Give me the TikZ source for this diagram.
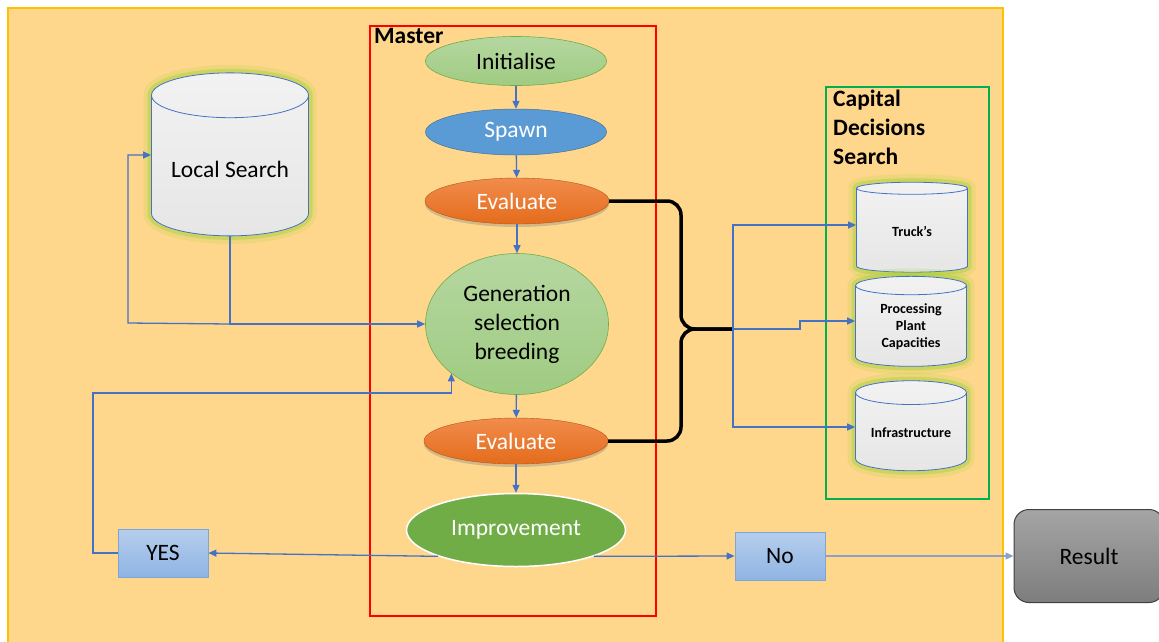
\documentclass[tikz,border=0pt]{standalone}
\usepackage{fontspec}
\setmainfont{Carlito}
\usepackage{xcolor}
\usepackage{tikz}
\usetikzlibrary{positioning, shapes, arrows.meta, calc, shapes.geometric, shadows}

\definecolor{bgorange}{RGB}{255,215,140}
\definecolor{bgedge}{RGB}{255,192,0}
\definecolor{flowblue}{RGB}{68,114,196}
\definecolor{linkgray}{RGB}{140,160,200}
\definecolor{greentop}{RGB}{181,215,160}
\definecolor{greenbot}{RGB}{160,203,130}
\definecolor{greenedge}{RGB}{112,173,71}
\definecolor{spawnblue}{RGB}{91,155,213}
\definecolor{spawnedge}{RGB}{65,113,156}
\definecolor{evaltop}{RGB}{241,140,75}
\definecolor{evalbot}{RGB}{228,108,28}
\definecolor{masterred}{RGB}{255,0,0}
\definecolor{capgreen}{RGB}{0,176,80}
\definecolor{glowgreen}{RGB}{165,210,60}
\definecolor{cylbody}{RGB}{231,230,230}
\definecolor{cyltop}{RGB}{242,242,242}
\definecolor{boxtop}{RGB}{182,206,236}
\definecolor{boxbot}{RGB}{143,180,227}
\definecolor{boxedge}{RGB}{125,165,215}
\definecolor{restop}{RGB}{165,165,165}
\definecolor{resbot}{RGB}{125,125,125}

\tikzset{
    flow/.style={draw=flowblue, line width=1.3pt, -{Triangle[length=8pt,width=7pt]}},
    brace/.style={draw=black, line width=3.5pt, rounded corners=14pt},
    stage/.style={ellipse, inner sep=0pt, font=\fontsize{23.5}{29}\selectfont},
    softgreen/.style={top color=greentop, bottom color=greenbot, draw=greenedge, line width=0.6pt},
    evalstyle/.style={top color=evaltop, bottom color=evalbot, draw=evalbot!80!black, line width=0.4pt, text=white,
        minimum width=184pt, minimum height=46pt, drop shadow={shadow xshift=0pt, shadow yshift=-3pt, opacity=0.35}},
    cylbase/.style={cylinder, shape border rotate=90, draw=flowblue, line width=0.8pt, top color=cyltop, bottom color=cylbody,
        preaction={draw=glowgreen, line width=16pt, opacity=0.2},
        preaction={draw=glowgreen, line width=8pt, opacity=0.45}},
    bigcyl/.style={cylbase, aspect=0.36, minimum width=157pt, minimum height=163pt,
        font=\fontsize{23.5}{27}\selectfont},
    smallcyl/.style={cylbase, aspect=0.29, minimum width=111pt, minimum height=90pt, inner sep=1pt, align=center,
        font=\bfseries\fontsize{14}{17}\selectfont},
    choice/.style={rectangle, top color=boxtop, bottom color=boxbot, draw=boxedge, line width=0.8pt,
        minimum width=90pt, minimum height=48pt, font=\fontsize{23.5}{27}\selectfont},
    outcome/.style={rectangle, rounded corners=15pt, top color=restop, bottom color=resbot, draw=black!75, line width=1pt,
        minimum width=150pt, minimum height=93pt, font=\fontsize{23.5}{27}\selectfont},
    title/.style={inner sep=0pt, font=\bfseries\fontsize{23.5}{29}\selectfont}
}

\begin{document}
\begin{tikzpicture}[x=1pt, y=-1pt]
    \path[use as bounding box, clip] (0,0) rectangle (1159,641);
    \draw[bgedge, fill=bgorange, line width=1.2pt] (8,8) rectangle (1003,660);
    \draw[masterred, line width=2.4pt] (370,26) rectangle (656,616);
    \draw[capgreen, line width=2.4pt] (826,87) rectangle (989,499);
    \node[title, anchor=base west] (mastertitle) at (374,43) {Master};
    \node[title, anchor=north west, align=left] (captitle) at (833,90) {Capital\\Decisions\\Search};

    \node[stage, softgreen, minimum width=181pt, minimum height=49pt] (init) at (516,61) {Initialise};
    \node[stage, fill=spawnblue, draw=spawnedge, line width=0.5pt, text=white, minimum width=181pt, minimum height=46pt] (spawn) at (516,132) {Spawn};
    \node[stage, evalstyle] (evalA) at (517,201) {Evaluate};
    \node[stage, softgreen, minimum width=183pt, minimum height=141pt, align=center] (gen) at (517,324) {Generation\\selection\\breeding};
    \node[stage, evalstyle] (evalB) at (516,441) {Evaluate};
    \node[stage, fill=greenedge, draw=white, line width=1.5pt, text=white, minimum width=219pt, minimum height=73pt] (impr) at (516,530) {Improvement};

    \node[bigcyl] (local) at (230,169) {Local Search};
    \node[smallcyl] (truck) at (912,231) {Truck’s};
    \node[smallcyl] (plant) at (911,327) {Processing\\Plant\\Capacities};
    \node[smallcyl] (infra) at (911,433) {Infrastructure};

    \node[choice] (yes) at (163,553) {YES};
    \node[choice] (no) at (780,556) {No};
    \node[outcome] (res) at (1089,556) {Result};

    \coordinate (lsloop) at (128,323);
    \coordinate (yesloop) at (93,393);
    \coordinate (brc) at (681,329);
    \coordinate (mrg) at (733,329);

    \draw[flow] (init) -- (spawn);
    \draw[flow] (spawn) -- (evalA);
    \draw[flow] (evalA) -- (gen);
    \draw[flow] (gen) -- (evalB);
    \draw[flow] (evalB) -- (impr);
    \draw[flow] (local.south) |- (gen.west);
    \draw[flow] (local.south |- gen.west) -- (lsloop) |- ([yshift=14pt]local.west);
    \draw[flow] (impr.south west) -- (yes.east);
    \draw[flow] (yes.west) -| (yesloop) -| (gen.217);
    \draw[flow] (impr.south east) -- (no.west);
    \draw[flow, draw=linkgray] (no.east) -- (res.west);

    \draw[brace] (evalA.east) -| (brc) -- (mrg);
    \draw[brace] (evalB.east) -| (brc) -- (mrg);
    \draw[flow] (mrg) |- ([yshift=6pt]truck.west);
    \draw[flow] (mrg) |- ([yshift=6pt]infra.west);
    \draw[flow] (mrg) -- ++(67,0) |- ([yshift=6pt]plant.west);
\end{tikzpicture}
\end{document}
